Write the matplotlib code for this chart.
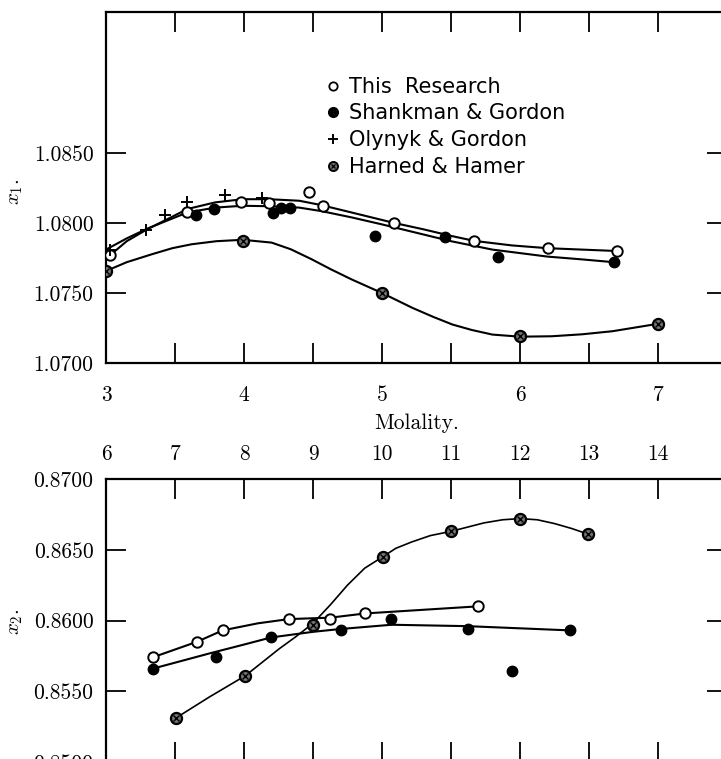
import matplotlib.pyplot as plt
from matplotlib.lines import Line2D

plt.rcParams['mathtext.fontset'] = 'cm'

# ---- upper panel: x1 against molality ----
this_m1 = [3.03, 3.59, 3.98, 4.18, 4.47, 4.57, 5.09, 5.67, 6.20, 6.70]
this_x1 = [1.0777, 1.0808, 1.0815, 1.0814, 1.0822, 1.0812, 1.0800, 1.0787, 1.0782, 1.0780]
sg_m1 = [3.65, 3.78, 4.21, 4.27, 4.33, 4.95, 5.46, 5.84, 6.68]
sg_x1 = [1.0806, 1.0810, 1.0807, 1.0811, 1.0811, 1.0791, 1.0790, 1.0776, 1.0772]
og_m1 = [3.03, 3.29, 3.43, 3.59, 3.86, 4.13]
og_x1 = [1.0781, 1.0795, 1.0806, 1.0815, 1.0820, 1.0818]
hh_m1 = [3.0, 3.99, 5.0, 6.0, 7.0]
hh_x1 = [1.0766, 1.0787, 1.0750, 1.0719, 1.0728]

# smooth curves as drawn
fit_this_m1 = [3.03, 3.15, 3.30, 3.45, 3.59, 3.79, 3.99, 4.18, 4.40, 4.56, 4.78, 5.09,
               5.30, 5.50, 5.67, 5.94, 6.20, 6.45, 6.70]
fit_this_x1 = [1.0777, 1.0787, 1.07956, 1.0803, 1.0810, 1.08147, 1.0817, 1.0817, 1.08159,
               1.08128, 1.08075, 1.0800, 1.07955, 1.07908, 1.07872, 1.0784, 1.0782, 1.0781,
               1.0780]
fit_sg_m1 = [3.0, 3.15, 3.30, 3.45, 3.59, 3.79, 3.99, 4.18, 4.40, 4.56, 4.78, 5.0, 5.25,
             5.5, 5.8, 6.0, 6.2, 6.45, 6.68]
fit_sg_x1 = [1.0781, 1.0789, 1.0796, 1.0802, 1.08075, 1.0811, 1.08123, 1.0812, 1.0811,
             1.08085, 1.0804, 1.0799, 1.0793, 1.0787, 1.0781, 1.07785, 1.0776, 1.0774,
             1.0772]
fit_hh_m1 = [3.0, 3.15, 3.33, 3.48, 3.62, 3.80, 3.99, 4.2, 4.34, 4.49, 4.63, 4.78, 5.0,
             5.22, 5.37, 5.51, 5.65, 5.80, 6.0, 6.23, 6.45, 6.67, 7.0]
fit_hh_x1 = [1.07657, 1.0772, 1.07776, 1.0782, 1.07848, 1.0787, 1.0788, 1.0786, 1.07812,
             1.07741, 1.07669, 1.07597, 1.0750, 1.07394, 1.0733, 1.07275, 1.07236, 1.07203,
             1.07188, 1.07191, 1.07205, 1.07227, 1.0728]

# ---- lower panel: x2 against molality ----
this_m2 = [6.68, 7.32, 7.69, 8.65, 9.25, 9.76, 11.39]
this_x2 = [0.8574, 0.8585, 0.8593, 0.8601, 0.8601, 0.8605, 0.8610]
sg_m2 = [6.68, 7.59, 8.39, 9.40, 10.13, 11.24, 11.88, 12.73]
sg_x2 = [0.8566, 0.8574, 0.8588, 0.8593, 0.8601, 0.8594, 0.8564, 0.8593]
hh_m2 = [7.01, 8.02, 9.0, 10.01, 11.0, 12.0, 12.99]
hh_x2 = [0.8531, 0.8561, 0.8597, 0.8645, 0.8663, 0.8672, 0.8661]

fit_this_m2 = [6.68, 7.32, 7.69, 8.2, 8.65, 9.25, 9.76, 11.39]
fit_this_x2 = [0.8574, 0.8585, 0.8593, 0.8598, 0.8601, 0.8602, 0.8605, 0.8610]
fit_sg_m2 = [6.68, 7.52, 8.0, 8.39, 9.0, 9.40, 10.14, 11.24, 12.73]
fit_sg_x2 = [0.8566, 0.8577, 0.8583, 0.8588, 0.8592, 0.8594, 0.8597, 0.8596, 0.8593]
fit_hh_m2 = [7.01, 7.5, 8.02, 8.51, 8.75, 9.0, 9.25, 9.5, 9.75, 10.01, 10.2, 10.43, 10.7,
             11.0, 11.24, 11.48, 11.75, 12.0, 12.25, 12.5, 12.75, 12.99]
fit_hh_x2 = [0.8531, 0.8546, 0.8561, 0.8580, 0.85885, 0.8598, 0.8611, 0.8625, 0.8637,
             0.8645, 0.8651, 0.86555, 0.8660, 0.8663, 0.8666, 0.8669, 0.86712, 0.8672,
             0.86712, 0.86685, 0.8665, 0.8661]

labels = ["This  Research", "Shankman & Gordon", "Olynyk & Gordon", "Harned & Hamer"]

W, H = 721, 759
fig = plt.figure(figsize=(W / 100, H / 100), dpi=100)
ax1 = fig.add_axes([106 / W, 1 - 363 / H, 621 / W, 351 / H])
ax2 = fig.add_axes([106 / W, 1 - 762 / H, 621 / W, 283 / H])

serif = 'cmr10'
lw = 1.5
line_kw = dict(color='k', solid_joinstyle='round', solid_capstyle='round')


def open_pts(ax, m, v):
    ax.plot(m, v, 'o', ms=7.5, mfc='white', mec='k', mew=1.4, zorder=4)


def filled_pts(ax, m, v):
    ax.plot(m, v, 'o', ms=7.5, color='k', zorder=4)


def hh_pts(ax, m, v):
    ax.plot(m, v, 'o', ms=8, mfc='0.45', mec='k', mew=1.6, zorder=4)
    ax.plot(m, v, 'x', ms=4.5, color='k', mew=1.0, zorder=5)


# upper panel
ax1.plot(fit_this_m1, fit_this_x1, lw=lw, **line_kw)
ax1.plot(fit_sg_m1, fit_sg_x1, lw=lw, **line_kw)
ax1.plot(fit_hh_m1, fit_hh_x1, lw=lw, **line_kw)
open_pts(ax1, this_m1, this_x1)
filled_pts(ax1, sg_m1, sg_x1)
ax1.plot(og_m1, og_x1, '+', ms=8, color='k', mew=1.4, zorder=5)
hh_pts(ax1, hh_m1, hh_x1)

ax1.set_xlim(3, 7.5)
ax1.set_ylim(1.07, 1.07 + 351 / 14000)
ax1.set_xticks([3, 4, 5, 6, 7])
ax1.set_xticks([3.5, 4.5, 5.5, 6.5], minor=True)
ax1.set_yticks([1.07, 1.075, 1.08, 1.085])
ax1.set_yticklabels(["1.0700", "1.0750", "1.0800", "1.0850"])
ax1.tick_params(axis='x', which='both', top=True, bottom=True)
ax1.tick_params(axis='y', left=True, right=True)
ax1.set_xlabel("Molality.", fontfamily=serif, fontsize=15.5, labelpad=6)

# lower panel
ax2.plot(fit_this_m2, fit_this_x2, lw=lw, **line_kw)
ax2.plot(fit_sg_m2, fit_sg_x2, lw=lw, **line_kw)
ax2.plot(fit_hh_m2, fit_hh_x2, lw=1.2, **line_kw)
open_pts(ax2, this_m2, this_x2)
filled_pts(ax2, sg_m2, sg_x2)
hh_pts(ax2, hh_m2, hh_x2)

ax2.set_xlim(6, 15)
ax2.set_ylim(0.85, 0.87)
ax2.set_xticks(range(6, 15))
ax2.set_yticks([0.85, 0.855, 0.86, 0.865, 0.87])
ax2.set_yticklabels(["0.8500", "0.8550", "0.8600", "0.8650", "0.8700"])
ax2.tick_params(axis='x', top=True, bottom=True, labeltop=True, labelbottom=False)
ax2.tick_params(axis='y', left=True, right=True)

for ax in (ax1, ax2):
    for sp in ax.spines.values():
        sp.set_linewidth(1.6)
    ax.tick_params(which='both', direction='in', length=14.5, width=1.3, labelsize=15.5)
    ax.tick_params(axis='y', pad=9)
    for lab in ax.get_xticklabels() + ax.get_yticklabels():
        lab.set_fontfamily(serif)
ax1.tick_params(axis='x', pad=16)
ax2.tick_params(axis='x', pad=11)

fig.text(15 / W, 1 - 192 / H, r"$x_1.$", rotation=90, ha='center', va='center', fontsize=15)
fig.text(15 / W, 1 - 622 / H, r"$x_2.$", rotation=90, ha='center', va='center', fontsize=15)

# legend
h_open = Line2D([], [], ls='none', marker='o', ms=6, mfc='white', mec='k', mew=1.3)
h_fill = Line2D([], [], ls='none', marker='o', ms=7, color='k')
h_plus = Line2D([], [], ls='none', marker='+', ms=7, color='k', mew=1.4)
h_hh = (Line2D([], [], ls='none', marker='o', ms=6.5, mfc='0.45', mec='k', mew=1.4),
        Line2D([], [], ls='none', marker='x', ms=3.5, color='k', mew=0.9))
ax1.legend([h_open, h_fill, h_plus, h_hh], labels, loc='upper left',
           bbox_to_anchor=(0.335, 0.845), frameon=False, handlelength=0.8,
           handletextpad=0.4, labelspacing=0.32, borderpad=0,
           prop={'family': 'DejaVu Sans', 'size': 15})

fig.savefig("out.png", dpi=100)
